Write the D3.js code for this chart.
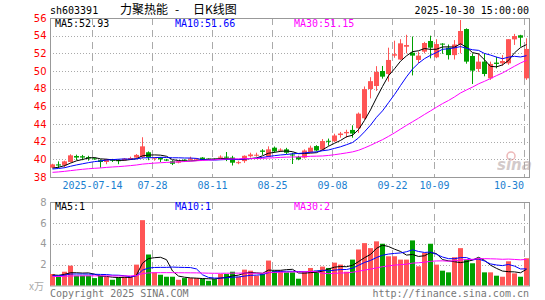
<!DOCTYPE html>
<html><head><meta charset="utf-8">
<script src="https://cdn.jsdelivr.net/npm/d3@7/dist/d3.min.js"></script>
<style>body{margin:0;background:#fff}svg{display:block}</style>
</head><body><svg id="c" width="545" height="300"></svg>
<script>
const dates = ["07-03","07-04","07-07","07-08","07-09","07-10","07-11","07-14","07-15","07-16","07-17","07-18","07-21","07-22","07-23","07-24","07-25","07-28","07-29","07-30","07-31",
"08-01","08-04","08-05","08-06","08-07","08-08","08-11","08-12","08-13","08-14","08-15","08-18","08-19","08-20","08-21","08-22","08-25","08-26","08-27","08-28","08-29",
"09-01","09-02","09-03","09-04","09-05","09-08","09-09","09-10","09-11","09-12","09-15","09-16","09-17","09-18","09-19","09-22","09-23","09-24","09-25","09-26","09-29","09-30",
"10-09","10-10","10-13","10-14","10-15","10-16","10-17","10-20","10-21","10-22","10-23","10-24","10-27","10-28","10-29","10-30"];
const open  = [39.06,39.43,39.32,39.70,40.38,40.35,40.25,40.12,39.90,39.70,39.95,39.90,39.90,40.00,40.20,40.26,40.80,40.08,40.20,39.97,39.78,
39.62,39.95,39.95,40.00,40.20,40.08,40.05,40.20,40.30,40.20,39.60,39.80,40.35,40.42,41.00,40.30,41.32,41.00,41.13,40.55,40.26,
40.20,40.83,41.50,41.10,42.10,42.04,42.75,42.95,43.33,43.52,44.65,47.96,48.30,50.00,49.66,51.74,51.30,52.75,52.07,51.25,52.19,53.40,
51.55,53.10,52.64,51.80,53.00,54.75,51.70,50.23,51.06,49.17,50.95,50.87,50.87,53.58,54.04,49.17];
const high  = [39.50,39.77,39.85,40.57,40.53,40.50,40.40,40.20,40.00,40.05,40.05,40.00,40.15,40.30,40.60,42.50,40.90,40.22,40.25,40.05,39.90,
39.82,40.00,40.30,40.15,40.25,40.10,40.10,40.45,40.83,40.40,39.80,40.45,40.75,40.75,41.15,41.47,41.45,41.25,41.30,40.75,40.40,
41.13,41.55,41.60,42.30,42.35,42.90,43.10,43.35,43.85,45.30,48.25,49.30,50.55,50.57,52.64,53.43,53.60,54.10,53.90,52.20,53.30,54.00,
53.60,53.15,53.00,53.50,55.77,54.83,52.00,52.00,52.00,51.06,51.60,51.80,53.60,54.20,54.10,53.70];
const low   = [39.00,39.02,39.06,39.65,39.90,39.90,39.85,39.95,39.05,39.45,39.70,39.45,39.85,39.95,40.10,40.10,39.90,39.85,39.70,39.80,39.35,
39.55,39.80,39.90,39.90,39.95,40.00,39.95,40.10,39.80,39.30,39.45,39.60,40.20,40.30,40.50,40.25,40.75,40.85,40.60,39.47,39.90,
40.10,40.75,40.90,41.00,41.55,41.95,42.45,42.45,42.45,43.00,44.50,46.90,47.75,49.13,48.80,51.50,51.25,52.00,49.50,50.90,52.00,51.43,
51.45,51.95,51.30,51.30,52.00,50.83,48.53,49.90,49.40,49.00,50.30,50.60,50.70,52.95,52.75,49.00];
const close = [39.43,39.30,39.77,40.45,40.20,40.20,40.12,40.05,39.70,40.00,39.85,39.80,40.08,40.15,40.50,41.47,40.20,40.19,40.00,39.88,39.50,
39.77,39.85,40.10,40.08,40.00,40.02,40.00,40.30,40.20,39.62,39.68,40.40,40.55,40.52,40.85,41.13,40.90,41.10,40.75,40.45,40.00,
41.00,41.32,41.00,42.07,42.00,42.70,42.92,43.10,42.92,45.17,47.95,48.85,49.90,49.36,51.25,51.90,53.13,52.94,51.74,51.74,53.17,52.64,
53.05,53.02,51.80,53.00,54.53,51.06,50.04,51.06,49.66,50.80,50.80,51.13,53.60,53.96,53.77,52.50];
const volume = [1.10,0.85,1.32,1.90,0.94,0.94,0.94,0.71,0.94,0.84,0.55,0.77,0.84,0.84,2.00,6.26,2.97,1.26,1.03,0.84,0.84,
0.55,0.71,0.71,0.71,0.65,0.45,0.61,1.10,1.10,1.32,0.84,1.52,1.42,0.94,1.10,2.39,1.42,1.42,1.26,1.26,0.65,
1.32,1.68,1.42,1.81,1.68,2.19,2.00,1.32,2.48,3.45,4.06,3.58,4.23,4.00,2.80,2.80,2.48,2.48,4.32,1.84,3.13,4.00,
2.00,1.42,1.26,2.71,3.58,2.48,2.13,2.61,1.26,1.26,0.94,0.84,2.32,1.16,0.84,2.61];
// closes / volumes of the 29 sessions before the window (estimated from the MA lines at the left edge)
const priorCloses = [37.9,37.8,38.0,37.9,38.0,38.3,38.5,38.4,38.2,38.4,38.6,38.5,38.3,38.4,38.5,38.4,
38.6,38.7,38.8,38.6,38.7,38.9,38.8,38.7,38.9,38.8,38.9,39.0,38.9];
const priorVolumes = [0.8,0.9,0.75,0.85,0.7,0.95,0.8,0.9,0.85,0.75,0.8,0.9,0.7,0.85,0.8,0.95,0.75,0.8,0.85,0.9,
0.8,0.75,0.85,0.9,0.95,1.0,0.9,1.1,0.95];
const priceTicks = [38,40,42,44,46,48,50,52,54,56];
const volTicks = [0,2,4,6,8];
const labelDates = ["07-14","07-28","08-11","08-25","09-08","09-22","10-09","10-30"];
const labelTexts = ["2025-07-14","07-28","08-11","08-25","09-08","09-22","10-09","10-30"];
const maTexts = ["MA5:52.93","MA10:51.66","MA30:51.15"];
const volMaTexts = ["MA5:1","MA10:1","MA30:2"];

const RED="#ff5555", GREEN="#00a000", GRID="#aaaaaa", FRAME="#999999";
const maColors=["#000000","#0000ff","#ff00ff"], maPeriods=[5,10,30];
const svg=d3.select("#c");
const L=50, R=530, T=18, B=177, VT=202, VB=285.5;
const x=d3.scaleBand().domain(dates).range([L,R]);
const y=d3.scaleLinear().domain([38,56]).range([B,T]);
const yv=d3.scaleLinear().domain([0,8]).range([VB,VT]);
const mono="'DejaVu Sans Mono',monospace";

function ma(prior,vals,n){const all=prior.concat(vals);return vals.map((v,i)=>{const j=prior.length+i;return d3.mean(all.slice(j-n+1,j+1));});}

// grids
function panelGrid(ys,top,bot,ticks){
  svg.append("g").selectAll("line").data(ticks).join("line")
    .attr("x1",L).attr("x2",R-1).attr("y1",d=>Math.round(ys(d))+0.5).attr("y2",d=>Math.round(ys(d))+0.5)
    .attr("stroke",GRID).attr("stroke-dasharray","1,2");
  svg.append("g").selectAll("line").data(labelDates).join("line")
    .attr("x1",d=>x(d)+0.5).attr("x2",d=>x(d)+0.5).attr("y1",top).attr("y2",bot)
    .attr("stroke",GRID).attr("stroke-dasharray","7,5");
  svg.append("rect").attr("x",L+0.5).attr("y",top+0.5).attr("width",R-L-1).attr("height",bot-top)
    .attr("fill","none").attr("stroke",FRAME);
}
panelGrid(y,T,B,[40,42,44,46,48,50,52,54]);
panelGrid(yv,VT,VB,[2,4,6]);

// watermark
const wm=svg.append("g").attr("opacity",0.55);
wm.append("circle").attr("cx",511).attr("cy",156).attr("r",4).attr("fill","none").attr("stroke","#e08080").attr("stroke-width",1.5);
wm.append("text").attr("x",497).attr("y",170).attr("font-family","'DejaVu Sans',sans-serif").attr("font-size",15)
  .attr("font-weight","bold").attr("font-style","italic").attr("fill","#b0a0a0").text("sina");

// candles
const idx=d3.range(dates.length);
const cg=svg.append("g");
cg.selectAll("line").data(idx).join("line")
  .attr("x1",i=>x(dates[i])+2.5).attr("x2",i=>x(dates[i])+2.5)
  .attr("y1",i=>y(high[i])).attr("y2",i=>y(low[i]))
  .attr("stroke",i=>close[i]>=open[i]?RED:GREEN);
cg.selectAll("rect").data(idx).join("rect")
  .attr("x",i=>x(dates[i])).attr("width",5)
  .attr("y",i=>y(Math.max(open[i],close[i])))
  .attr("height",i=>Math.max(1,Math.abs(y(open[i])-y(close[i]))))
  .attr("fill",i=>close[i]>=open[i]?RED:GREEN);

// volume bars
svg.append("g").selectAll("rect").data(idx).join("rect")
  .attr("x",i=>x(dates[i])).attr("width",5)
  .attr("y",i=>yv(volume[i])).attr("height",i=>yv(0)-yv(volume[i]))
  .attr("fill",i=>close[i]>=open[i]?RED:GREEN);

// MA lines
maPeriods.forEach((n,k)=>{
  const m=ma(priorCloses,close,n);
  svg.append("path").datum(m).attr("fill","none").attr("stroke",maColors[k]).attr("stroke-width",1)
    .attr("d",d3.line().x((d,i)=>x(dates[i])+2.5).y(d=>y(d)));
  const mv=ma(priorVolumes,volume,n);
  svg.append("path").datum(mv).attr("fill","none").attr("stroke",maColors[k]).attr("stroke-width",1)
    .attr("d",d3.line().x((d,i)=>x(dates[i])+2.5).y(d=>yv(d)));
});

// axis labels
const yAxis=d3.axisLeft(y).tickValues(priceTicks).tickSize(0).tickPadding(0);
const ga=svg.append("g").attr("transform","translate(46.5,0)").call(yAxis);
ga.select(".domain").remove();
ga.selectAll("text").attr("fill","#ff0000").attr("font-family","'DejaVu Sans',sans-serif").attr("font-size",10);
const vAxis=d3.axisLeft(yv).tickValues(volTicks.slice(1)).tickSize(0).tickPadding(0);
const gv=svg.append("g").attr("transform","translate(46.5,0)").call(vAxis);
gv.select(".domain").remove();
gv.selectAll("text").attr("fill","#999999").attr("font-family","'DejaVu Sans',sans-serif").attr("font-size",10);

const xg=svg.append("g");
xg.selectAll("text").data(labelDates).join("text")
  .attr("x",(d,i)=>i===labelDates.length-1?x(d):x(d)+0.5)
  .attr("y",189).attr("text-anchor",(d,i)=>i===labelDates.length-1?"end":"middle")
  .attr("font-family",mono).attr("font-size",10).attr("fill","#1a80d0")
  .text((d,i)=>labelTexts[i]);

// header texts
function t(xp,yp,s,opt={}){return svg.append("text").attr("x",xp).attr("y",yp).attr("font-family",opt.f||mono)
  .attr("font-size",opt.s||10).attr("fill",opt.c||"#000").attr("text-anchor",opt.a||"start").text(s);}
t(50,14,"sh603391");
t(120,14,"力聚热能",{f:"'Noto Sans CJK SC',sans-serif",s:12});
t(175,14,"-",{f:"'Noto Sans CJK SC',sans-serif",s:12});
t(193,14,"日K线图",{f:"'Noto Sans CJK SC',sans-serif",s:12});
t(529,14,"2025-10-30 15:00:00",{a:"end"});
const maX=[55,175,294];
maTexts.forEach((s,k)=>t(maX[k],27,s,{c:maColors[k]}));
volMaTexts.forEach((s,k)=>t(maX[k],210,s,{c:maColors[k]}));
t(44,290,"x万",{f:"'Noto Sans CJK SC',sans-serif",s:10,c:"#aaaaaa",a:"end"});
t(50,297,"Copyright 2025 SINA.COM",{c:"#777777"});
t(529,297,"http://finance.sina.com.cn",{c:"#777777",a:"end"});
</script></body></html>
